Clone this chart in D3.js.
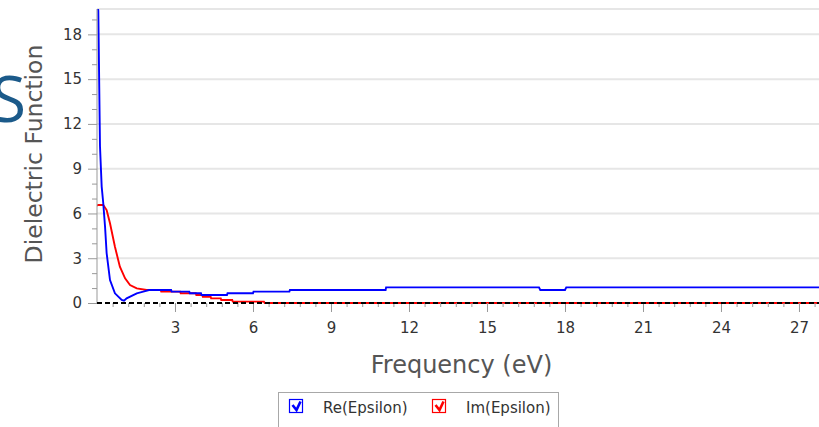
<!DOCTYPE html>
<html><head><meta charset="utf-8">
<script src="https://cdn.jsdelivr.net/npm/d3@7"></script>
<style>html,body{margin:0;padding:0;background:#fff;overflow:hidden}svg{display:block}</style>
</head><body>
<svg id="chart" width="819" height="427"></svg>
<script>
// ---- data ----
const yTickValues = [0, 3, 6, 9, 12, 15, 18];
const xTickValues = [3, 6, 9, 12, 15, 18, 21, 24, 27];
const seriesNames = ["Re(Epsilon)", "Im(Epsilon)"];
const reEnergy = [0.02, 0.05, 0.115, 0.18, 0.24, 0.31, 0.37, 0.5, 0.69, 0.95, 1.04, 1.14, 1.53, 1.78, 2.0, 2.85, 2.87, 3.55, 3.57, 4.0, 4.02, 5.0, 5.02, 6.0, 6.02, 7.4, 7.42, 11.1, 11.12, 17.0, 17.05, 18.0, 18.05, 27.8];
const reValues = [19.9, 19.6, 10.5, 7.8, 6.7, 5.1, 3.35, 1.54, 0.65, 0.2, 0.15, 0.31, 0.65, 0.76, 0.87, 0.87, 0.76, 0.76, 0.65, 0.65, 0.54, 0.54, 0.65, 0.65, 0.76, 0.76, 0.87, 0.87, 1.05, 1.05, 0.87, 0.87, 1.05, 1.05];
const imEnergy = [0.0, 0.05, 0.24, 0.37, 0.5, 0.69, 0.88, 1.08, 1.27, 1.53, 1.91, 2.45, 2.47, 3.2, 3.22, 3.8, 3.82, 4.05, 4.07, 4.37, 4.39, 4.76, 4.78, 5.2, 5.22, 6.42, 6.45, 27.8];
const imValues = [6.52, 6.57, 6.57, 6.23, 5.34, 3.77, 2.43, 1.65, 1.2, 0.98, 0.87, 0.87, 0.76, 0.76, 0.65, 0.65, 0.54, 0.54, 0.42, 0.42, 0.31, 0.31, 0.2, 0.2, 0.09, 0.09, 0.0, 0.0];
const seriesColors = ["#0000ff", "#ff0000"];

// ---- layout ----
const svg = d3.select("#chart");
const pL = 97, pR = 819, pT = 9, pB = 303;
const x = d3.scaleLinear().domain([0, 27.77]).range([pL, pR]);
const y = d3.scaleLinear().domain([0, 19.7]).range([pB, pT]);

// big partial "S" from background
svg.append("text").attr("x", -9).attr("y", 122)
  .attr("font-family", "Open Sans").attr("font-size", 64)
  .attr("fill", "#1b5a8a").text("S");

// gridlines
svg.append("g").selectAll("line").data(yTickValues.filter(d => d > 0).concat([19.7]))
  .join("line").attr("x1", pL).attr("x2", pR)
  .attr("y1", d => y(d)).attr("y2", d => y(d))
  .attr("stroke", "#e6e6e6").attr("stroke-width", 2);

// clip
svg.append("clipPath").attr("id", "clip").append("rect")
  .attr("x", pL).attr("y", pT).attr("width", pR - pL).attr("height", pB - pT + 2);

// lines
const line = d3.line().x(d => x(d[0])).y(d => y(d[1]));
const reData = reEnergy.map((e, i) => [e, reValues[i]]);
const imData = imEnergy.map((e, i) => [e, imValues[i]]);
const lg = svg.append("g").attr("clip-path", "url(#clip)");
lg.append("path").datum(imData).attr("d", line).attr("fill", "none")
  .attr("stroke", seriesColors[1]).attr("stroke-width", 1.9);
lg.append("path").datum(reData).attr("d", line).attr("fill", "none")
  .attr("stroke", seriesColors[0]).attr("stroke-width", 1.9);

// y axis
const yAxis = svg.append("g").attr("transform", `translate(${pL},0)`)
  .call(d3.axisLeft(y).tickValues(yTickValues).tickSize(9).tickPadding(6).tickFormat(d3.format("d")));
yAxis.select(".domain").remove();
yAxis.selectAll(".tick line").attr("stroke", "#999");
yAxis.selectAll("text").attr("font-family", "DejaVu Sans").attr("font-size", 15).attr("fill", "#333");
svg.append("g").attr("transform", `translate(${pL},0)`)
  .call(d3.axisLeft(y).tickValues(d3.range(1, 20).filter(d => d % 3 !== 0)).tickSize(5).tickFormat(""))
  .call(g => g.select(".domain").remove())
  .selectAll("line").attr("stroke", "#999");
svg.append("line").attr("x1", pL).attr("x2", pL).attr("y1", pT).attr("y2", pB)
  .attr("stroke", "#999").attr("stroke-width", 1);

// x axis
const xAxis = svg.append("g").attr("transform", `translate(0,${pB})`)
  .call(d3.axisBottom(x).tickValues(xTickValues).tickSize(9).tickPadding(10).tickFormat(d3.format("d")));
xAxis.select(".domain").remove();
xAxis.selectAll(".tick line").attr("stroke", "#999");
xAxis.selectAll("text").attr("font-family", "DejaVu Sans").attr("font-size", 15).attr("fill", "#333");
const minorX = d3.range(0.6, 27.8, 0.6).filter(d => Math.abs(d / 3 - Math.round(d / 3)) > 0.01);
svg.append("g").attr("transform", `translate(0,${pB})`)
  .call(d3.axisBottom(x).tickValues(minorX).tickSize(4).tickFormat(""))
  .call(g => g.select(".domain").remove())
  .selectAll("line").attr("stroke", "#999");
svg.append("line").attr("x1", pL).attr("x2", pR).attr("y1", pB).attr("y2", pB)
  .attr("stroke", "#000").attr("stroke-width", 2).attr("stroke-dasharray", "5,3");

// axis titles
svg.append("text").attr("x", 461.5).attr("y", 373).attr("text-anchor", "middle")
  .attr("font-family", "DejaVu Sans").attr("font-size", 24).attr("fill", "#555")
  .text("Frequency (eV)");
svg.append("text").attr("transform", "translate(42,154) rotate(-90)").attr("text-anchor", "middle")
  .attr("font-family", "DejaVu Sans").attr("font-size", 23.5).attr("fill", "#555")
  .text("Dielectric Function");

// legend
const leg = svg.append("g");
leg.append("rect").attr("x", 278.5).attr("y", 392.5).attr("width", 280).attr("height", 40)
  .attr("fill", "#fff").attr("stroke", "#a8a8a8");
const legX = [289, 432];
seriesNames.forEach((name, i) => {
  const gx = legX[i];
  const g = leg.append("g").attr("transform", `translate(${gx},399)`);
  g.append("rect").attr("x", 0.5).attr("y", 0.5).attr("width", 13).attr("height", 13)
    .attr("fill", "#fff").attr("stroke", seriesColors[i]).attr("stroke-width", 1.2);
  g.append("path").attr("d", "M3.5,6 L7.5,11 L11.5,2.5").attr("fill", "none")
    .attr("stroke", seriesColors[i]).attr("stroke-width", 2.6);
  leg.append("text").attr("x", gx + 34).attr("y", 412.5)
    .attr("font-family", "DejaVu Sans").attr("font-size", 15).attr("fill", "#333").text(name);
});
</script>
</body></html>
